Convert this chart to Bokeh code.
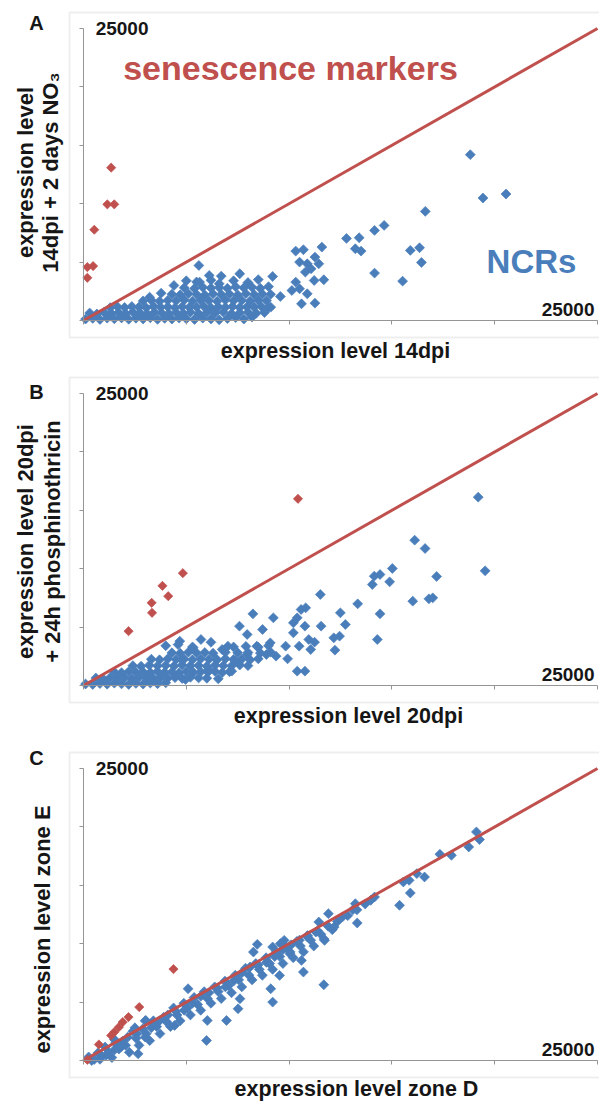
import math
from bokeh.plotting import figure
from bokeh.models import (Range1d, LinearAxis, FixedTicker, Label, BoxAnnotation,
                          CustomLabelingPolicy)
from bokeh.layouts import column
from bokeh.embed import file_html
from bokeh.resources import INLINE

# ---------------- data ----------------
AXIS_MAX = 25000
axis_ticks = [0, 5000, 10000, 15000, 20000, 25000]
max_tick_label = "25000"
diag = [0, AXIS_MAX]

panel_letters = ["A", "B", "C"]
x_titles = ["expression level 14dpi", "expression level 20dpi", "expression level zone D"]
y_titles = [["expression level", "14dpi + 2 days NO\u2083"],
            ["expression level 20dpi", "+ 24h phosphinothricin"],
            ["expression level zone E"]]
sen_label = "senescence markers"
ncr_label = "NCRs"

# Panel A (14dpi vs 14dpi + 2 days NO3)
a_ncr = [
    (100, 120), (450, 180), (800, 90), (1150, 200), (1500, 140), (1850, 220), (2200, 110), (2550, 190),
    (2900, 130), (3250, 230), (3600, 100), (3950, 180), (4300, 120), (4650, 210), (5000, 150),
    (5400, 90), (5800, 200), (6200, 130), (6600, 60), (7000, 170), (7400, 250), (7800, 120), (8200, 300),
    (300, 640), (650, 560), (1000, 700), (1350, 620), (1700, 680), (2050, 600), (2400, 720), (2750, 640),
    (3100, 580), (3450, 700), (3800, 650), (4150, 610), (4500, 690), (4850, 630), (5200, 710),
    (5600, 600), (6000, 680), (6400, 640), (6800, 720), (7200, 590), (7600, 660), (8000, 700),
    (8400, 620), (8800, 680),
    (1300, 1100), (1650, 1180), (2000, 1120), (2350, 1200), (2700, 1150), (3050, 1090), (3400, 1210),
    (3750, 1140), (4100, 1170), (4450, 1100), (4800, 1190), (5150, 1130), (5500, 1160), (5850, 1210),
    (6200, 1100), (6550, 1180), (6900, 1140), (7250, 1200), (7600, 1110), (7950, 1170), (8300, 1150),
    (8650, 1190), (9000, 1120),
    (2900, 1680), (3300, 1740), (3700, 1650), (4100, 1720), (4500, 1690), (4900, 1760), (5300, 1660),
    (5700, 1730), (6100, 1700), (6500, 1650), (6900, 1750), (7300, 1690), (7700, 1720), (8100, 1660),
    (8500, 1740), (8900, 1700),
    (3216, 2000), (3777, 2343), (4300, 2250), (4700, 2200), (5100, 2300), (5500, 2240), (5900, 2180),
    (6300, 2280), (6700, 2230), (7100, 2260), (7500, 2190), (7900, 2300), (8300, 2220), (8700, 2270),
    (9100, 2240),
    (4900, 2800), (5400, 2750), (5800, 2850), (6200, 2780), (6600, 2820), (7000, 2760), (7400, 2880),
    (7800, 2800), (8200, 2840), (8600, 2760), (9000, 2900),
    (5500, 3300), (6200, 3450), (6600, 3150), (7300, 3400), (8000, 3250), (8500, 3500),
    (6700, 3800), (7600, 4000), (4400, 3000), (5000, 3400),
    (18812, 14200), (19429, 10485), (20551, 10828), (16624, 9342), (14623, 8142), (14156, 7714),
    (13408, 7085), (12791, 7028), (13221, 6142), (13501, 5943), (15895, 6000), (16344, 6228),
    (16437, 4971), (14156, 4057), (15521, 3371), (11594, 6285), (10322, 5943), (10696, 6057),
    (11257, 5428), (10883, 4857), (11444, 4857), (10509, 5000), (11070, 4428), (10790, 4143),
    (11688, 3486), (11220, 3428), (10322, 3286), (10135, 2571), (10509, 2714), (10883, 2286),
    (10603, 1428), (11257, 1486), (5610, 4714), (6115, 3857), (5647, 3286), (9200, 3771),
    (9574, 2057), (9107, 1143)]
a_sen = [(1346, 13086), (1159, 9943), (1496, 9943), (524, 7771), (187, 4571), (467, 4657), (187, 3657)]

# Panel B (20dpi vs 20dpi + 24h phosphinothricin)
b_ncr = [
    (100, 130), (450, 90), (800, 170), (1150, 110), (1500, 200), (1850, 140), (2200, 90), (2550, 180),
    (2900, 120), (3250, 210), (3600, 150), (4000, 230),
    (600, 640), (950, 580), (1300, 690), (1650, 620), (2000, 660), (2350, 600), (2700, 700), (3050, 640),
    (3400, 610), (3750, 690), (4100, 630), (4450, 670), (4800, 600), (5200, 700), (5600, 650), (6000, 620),
    (1500, 1150), (1850, 1100), (2200, 1190), (2550, 1130), (2900, 1170), (3250, 1110), (3600, 1200),
    (3950, 1140), (4300, 1160), (4650, 1100), (5000, 1190), (5350, 1120), (5700, 1170), (6050, 1140),
    (6400, 1200), (6750, 1110), (7100, 1180),
    (2400, 1700), (2800, 1650), (3200, 1740), (3600, 1680), (4000, 1720), (4400, 1660), (4800, 1750),
    (5200, 1690), (5600, 1710), (6000, 1650), (6400, 1740), (6800, 1700), (7200, 1680), (7600, 1750),
    (8000, 1700),
    (3300, 2250), (3700, 2200), (4100, 2290), (4500, 2230), (4900, 2260), (5300, 2200), (5700, 2280),
    (6100, 2240), (6500, 2210), (6900, 2290), (7300, 2230), (7700, 2260), (8100, 2200), (8500, 2280),
    (4300, 2800), (4700, 2760), (5100, 2850), (5500, 2790), (5900, 2820), (6300, 2770), (6900, 2850),
    (7500, 2800), (8000, 2830), (8600, 2780), (9100, 2860),
    (7300, 3300), (7900, 3350), (8500, 3280), (9000, 3400), (4000, 3400), (4600, 3500), (5300, 3300),
    (6200, 3700),
    (19198, 16125), (19535, 9818), (16108, 12443), (16614, 11730), (15021, 10018), (17175, 9333),
    (14141, 9361), (14422, 9504), (14890, 8876), (14048, 8648), (16014, 7220), (16801, 7420),
    (16988, 7506), (14422, 6136), (14291, 3938), (13336, 6992), (12493, 6222), (12736, 5223),
    (12455, 4224), (12174, 4081), (12230, 3025), (11556, 5080), (11519, 7791), (10807, 6650),
    (10582, 6507), (10395, 5794), (10208, 5366), (10770, 5080), (10957, 3938), (10489, 3368),
    (11051, 3082), (11238, 3710), (10208, 4509), (9833, 3368), (9927, 2283), (10395, 1227),
    (10770, 1227), (8241, 6136), (9234, 5794), (8709, 4795), (7586, 5080), (7961, 4367),
    (8429, 3368), (9084, 3653), (9365, 2512), (8897, 2654), (7961, 2654), (7398, 2083),
    (6742, 3082), (7023, 3368), (6461, 2226), (7211, 1227), (6555, 571), (6087, 1370),
    (5338, 3225), (5713, 3938), (4683, 3796), (4776, 2226), (4963, 514)]
b_sen = [(10432, 15982), (4832, 9618), (3840, 8533), (4121, 7649), (3315, 7078), (3334, 6222), (2191, 4652)]

# Panel C (zone D vs zone E)
c_ncr = [
    (250, 300), (520, 90), (700, 650), (880, 420), (1050, 1150), (1230, 700), (1380, 250), (1560, 1500),
    (1720, 980), (1900, 1650), (2050, 1300), (2230, 700), (2400, 2500), (2560, 1900), (2700, 1300),
    (2880, 2700), (3050, 2300), (3220, 1700), (3400, 3400), (3560, 2900), (3720, 2300), (3900, 3700),
    (4050, 3300), (4230, 2900), (4380, 4500), (4550, 3900), (4700, 3400), (4880, 4900), (5050, 4500),
    (5200, 3900), (5380, 5400), (5550, 4800), (5700, 4300), (5870, 5900), (6030, 5300), (6200, 4900),
    (6380, 6300), (6550, 5900), (6700, 5300), (6880, 6800), (7050, 6400), (7200, 5800), (7380, 7300),
    (7550, 6900), (7700, 6300), (7880, 7900), (8050, 7300), (8200, 6900), (8380, 8300), (8550, 7800),
    (8700, 7300), (8880, 8800), (9050, 8300), (9200, 7800), (9380, 9300), (9550, 8900), (9700, 8300),
    (9880, 9700), (10050, 9300), (10200, 8800), (10380, 10200), (10550, 9800), (10700, 9300),
    (10880, 10600), (11050, 10300), (11200, 9800), (11380, 11100), (11550, 10800), (11700, 10400),
    (11900, 11500), (12100, 11200), (12350, 11900), (12600, 12300), (12850, 12400), (13100, 12900),
    (400, 0), (800, 100), (1100, 450), (1500, 900), (1850, 1200), (2150, 2000), (2600, 2300), (3000, 2000),
    (3300, 2800), (3700, 3400), (4100, 3900), (4500, 4200), (4900, 4300), (5300, 4900), (5700, 5500),
    (6100, 5800), (6500, 6200), (6900, 6300), (7300, 6800), (7700, 7500), (8100, 8000), (8500, 8200),
    (8900, 8400), (9300, 8900), (9700, 9500), (10100, 9900), (10500, 10300), (10900, 10700),
    (11300, 11000), (3000, 3400), (1500, 1800), (2500, 2800), (13300, 12900), (13700, 13400),
    (19111, 19571), (19261, 18914), (18737, 18285), (17896, 17571), (17335, 17657), (16587, 15714),
    (16213, 16000), (15839, 15428), (15558, 15286), (15895, 14343), (15371, 13286), (13969, 13714),
    (14156, 14000), (13314, 11771), (13221, 13428), (11912, 12571), (11444, 11857), (12192, 11428),
    (11725, 10285), (11688, 6485), (10696, 7571), (10603, 8571), (10042, 9143), (9761, 10285),
    (9574, 10000), (9200, 9714), (9537, 7285), (8452, 9943), (8265, 9286), (9107, 6143),
    (9200, 5000), (7611, 5286), (7517, 4428), (6956, 3428), (5984, 1714), (6022, 3428),
    (5086, 6143), (4432, 3000), (2656, 571), (3030, 3428)]
c_sen = [(4376, 7828), (2712, 4571), (2188, 3714), (1907, 3286), (1720, 2857), (1496, 2428),
         (1346, 2143), (748, 1371), (187, 57)]

ncr_sets = [a_ncr, b_ncr, c_ncr]
sen_sets = [a_sen, b_sen, c_sen]

# ---------------- styles / layout ----------------
BLUE = "#4a7ebb"
RED = "#c0504d"
AXIS_GREY = "#959595"
BOX_GREY = "#c6c6c6"
TXT = "#161616"
FONT = "Liberation Sans"

FIG_W = 599
HEIGHTS = [365, 375, 361]
X0PX, X1PX = 83, 597      # pixel positions of 0 and AXIS_MAX
YTOPPX, YBOTPX = 28, 320  # pixel positions of AXIS_MAX and 0

letter_pos = [(36, 22), (36, 26), (36, 17)]
xtitle_pos = [(335, 350), (348, 350), (356, 348)]
ytitle_layout = [([25, 50], 172), ([25, 52], 176), ([42], 189)]

# no tick labels on the x axis, only the top one (25000) on the y axis
hide_labels = CustomLabelingPolicy(code="""
const all = Array.from(indices)
for (const i of all) { indices.unset(i) }
return indices
""")
keep_last_label = CustomLabelingPolicy(code="""
const all = Array.from(indices)
for (let k = 0; k < all.length - 1; k++) { indices.unset(all[k]) }
return indices
""")


def make_panel(i):
    H = HEIGHTS[i]

    def px(xp):
        return (xp - X0PX) / (X1PX - X0PX) * AXIS_MAX

    def py(yp):
        return (YBOTPX - yp) / (YBOTPX - YTOPPX) * AXIS_MAX

    p = figure(width=FIG_W, height=H, x_range=Range1d(px(0), px(FIG_W)),
               y_range=Range1d(py(H), py(0)), x_axis_location=None, y_axis_location=None,
               toolbar_location=None, output_backend="svg", min_border=0,
               outline_line_color=None, background_fill_color="white",
               border_fill_color="white")
    p.grid.visible = False

    p.add_layout(BoxAnnotation(left=px(69), right=px(640), top=py(12), bottom=py(337),
                               fill_color=None, fill_alpha=0, line_color=BOX_GREY,
                               line_width=2))

    common = dict(fixed_location=0, bounds=(0, AXIS_MAX), ticker=FixedTicker(ticks=axis_ticks),
                  axis_line_color=AXIS_GREY, axis_line_width=1,
                  major_tick_line_color=AXIS_GREY, major_tick_in=0, major_tick_out=4,
                  minor_tick_line_color=None, axis_label=None,
                  major_label_text_font=FONT, major_label_text_font_style="bold",
                  major_label_text_font_size="19px", major_label_text_color=TXT)
    p.add_layout(LinearAxis(major_label_policy=hide_labels, **common), "below")
    p.add_layout(LinearAxis(major_label_policy=keep_last_label, major_label_standoff=-69,
                            **common), "left")

    ncr = ncr_sets[i]
    sen = sen_sets[i]
    p.scatter([a for a, b in ncr], [b for a, b in ncr], marker="square", size=7,
              angle=math.pi / 4, fill_color=BLUE, line_color=BLUE, line_width=0.7)
    p.line(diag, diag, line_color=RED, line_width=3)
    p.scatter([a for a, b in sen], [b for a, b in sen], marker="square", size=6.5,
              angle=math.pi / 4, fill_color=RED, line_color=RED, line_width=0.7)

    def lab(x, y, text, size, **kw):
        opts = dict(text_font=FONT, text_font_style="bold", text_color=TXT,
                    text_align="center", text_baseline="middle")
        opts.update(kw)
        p.add_layout(Label(x=px(x), y=py(y), text=text, text_font_size=f"{size}px", **opts))

    lx, ly = letter_pos[i]
    lab(lx, ly, panel_letters[i], 20)
    lab(594, 309, max_tick_label, 19, text_align="right")
    tx, ty = xtitle_pos[i]
    lab(tx, ty, x_titles[i], 21.5)
    xs, cy = ytitle_layout[i]
    for xx, t in zip(xs, y_titles[i]):
        lab(xx, cy, t, 22, angle=math.pi / 2)

    if i == 0:
        lab(290, 67, sen_label, 34, text_color=RED)
        lab(531, 261, ncr_label, 33, text_color=BLUE)
    return p


layout = column(*[make_panel(i) for i in range(3)], spacing=0)
open("out.html", "w").write(file_html(layout, INLINE))
